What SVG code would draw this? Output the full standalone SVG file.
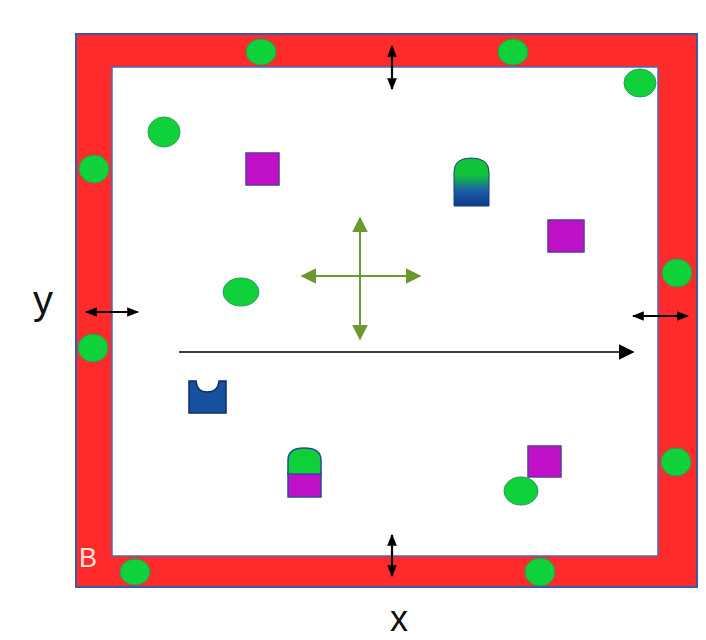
<svg xmlns="http://www.w3.org/2000/svg" width="706" height="640" viewBox="0 0 706 640">
<defs>
<style>
.dot{fill:#0fd23a;stroke:#2a9a5a;stroke-width:1}
.sq{fill:#c010c8;stroke:#5a3aa0;stroke-width:1.5}
.lbl{font-family:"Liberation Sans",Arial,sans-serif;fill:#111}
.g{stroke:#6a9a2e;stroke-width:2;fill:none}
.k{stroke:#000;stroke-width:1.6;fill:none}
.ks{stroke:#000;stroke-width:2.2;fill:none}
</style>
<marker id="gah" viewBox="0 0 10 10" refX="9" refY="5" markerWidth="16" markerHeight="16" markerUnits="userSpaceOnUse" orient="auto-start-reverse"><path d="M0,0 L10,5 L0,10 z" fill="#6a9a2e"/></marker>
<marker id="ka" viewBox="0 0 10 10" refX="9" refY="5" markerWidth="16" markerHeight="16" markerUnits="userSpaceOnUse" orient="auto-start-reverse"><path d="M0,0 L10,5 L0,10 z" fill="#000"/></marker>
<marker id="ks" viewBox="0 0 10 10" refX="9" refY="5" markerWidth="12" markerHeight="12" markerUnits="userSpaceOnUse" orient="auto-start-reverse"><path d="M0,1 L10,5 L0,9 z" fill="#000"/></marker>
<linearGradient id="gb" x1="0" y1="0" x2="0" y2="1"><stop offset="0.35" stop-color="#12c43a"/><stop offset="0.7" stop-color="#1a5aa8"/><stop offset="1" stop-color="#0c3a88"/></linearGradient>
</defs>
<rect width="706" height="640" fill="#fff"/>
<g id="frame">
<path d="M76,34 H697 V587 H76 Z M112,67 V556 H658 V67 Z" fill="#ff2a2a" fill-rule="evenodd"/>
<rect x="76" y="34" width="621" height="553" fill="none" stroke="#3a5aa8" stroke-width="2"/>
<rect x="112" y="67" width="546" height="489" fill="none" stroke="#4a6ab8" stroke-width="1.5"/>
<text x="79" y="567" class="lbl" font-size="27" style="fill:#ffe4dc">B</text>
</g>
<g id="dots">
<ellipse class="dot" cx="261" cy="52" rx="15" ry="13"/>
<ellipse class="dot" cx="513" cy="52" rx="15" ry="13"/>
<ellipse class="dot" cx="640" cy="83" rx="16" ry="14"/>
<ellipse class="dot" cx="164" cy="132" rx="16" ry="15"/>
<ellipse class="dot" cx="94" cy="169" rx="15" ry="14"/>
<ellipse class="dot" cx="677" cy="273" rx="15" ry="14"/>
<ellipse class="dot" cx="241" cy="292" rx="18" ry="14"/>
<ellipse class="dot" cx="93" cy="348" rx="15" ry="14"/>
<ellipse class="dot" cx="676" cy="462" rx="15" ry="14"/>
<ellipse class="dot" cx="521" cy="491" rx="17" ry="14"/>
<ellipse class="dot" cx="135" cy="572" rx="15" ry="13"/>
<ellipse class="dot" cx="540" cy="572" rx="15" ry="14"/>
</g>
<g id="squares">
<rect class="sq" x="246" y="153" width="33" height="32"/>
<rect class="sq" x="548" y="220" width="36" height="32"/>
<rect class="sq" x="528" y="446" width="33" height="31"/>
</g>
<g id="blocks">
<path d="M454,206 V172 Q454,158 471,158 Q489,158 489,172 V206 Z" fill="url(#gb)" stroke="#1a3a80" stroke-width="1"/>
<path d="M189,413 V381 H196 Q197,392 207,392 Q218,392 219,381 H226 V413 Z" fill="#1850a0" stroke="#0c2a6a" stroke-width="1.5"/>
<rect x="288" y="472" width="33" height="25" fill="#c010c8" stroke="#2a4aa0" stroke-width="1.5"/>
<path d="M288,474 V460 Q288,448 304,448 Q321,448 321,460 V474 Z" fill="#10d03a" stroke="#2a4aa0" stroke-width="1.5"/>
</g>
<g id="connectors">
<line class="g" x1="360" y1="218" x2="360" y2="339" marker-start="url(#gah)" marker-end="url(#gah)"/>
<line class="g" x1="302" y1="276" x2="420" y2="276" marker-start="url(#gah)" marker-end="url(#gah)"/>
<line class="k" x1="179" y1="352" x2="633" y2="352" marker-end="url(#ka)"/>
<line class="ks" x1="392" y1="46" x2="392" y2="89" marker-start="url(#ks)" marker-end="url(#ks)"/>
<line class="ks" x1="392" y1="535" x2="392" y2="576" marker-start="url(#ks)" marker-end="url(#ks)"/>
<line class="ks" x1="86" y1="312" x2="138" y2="312" marker-start="url(#ks)" marker-end="url(#ks)"/>
<line class="ks" x1="633" y1="316" x2="688" y2="316" marker-start="url(#ks)" marker-end="url(#ks)"/>
</g>
<g id="labels">
<text x="33" y="314" class="lbl" font-size="40">y</text>
<text x="390" y="631" class="lbl" font-size="36">x</text>
</g>
</svg>
